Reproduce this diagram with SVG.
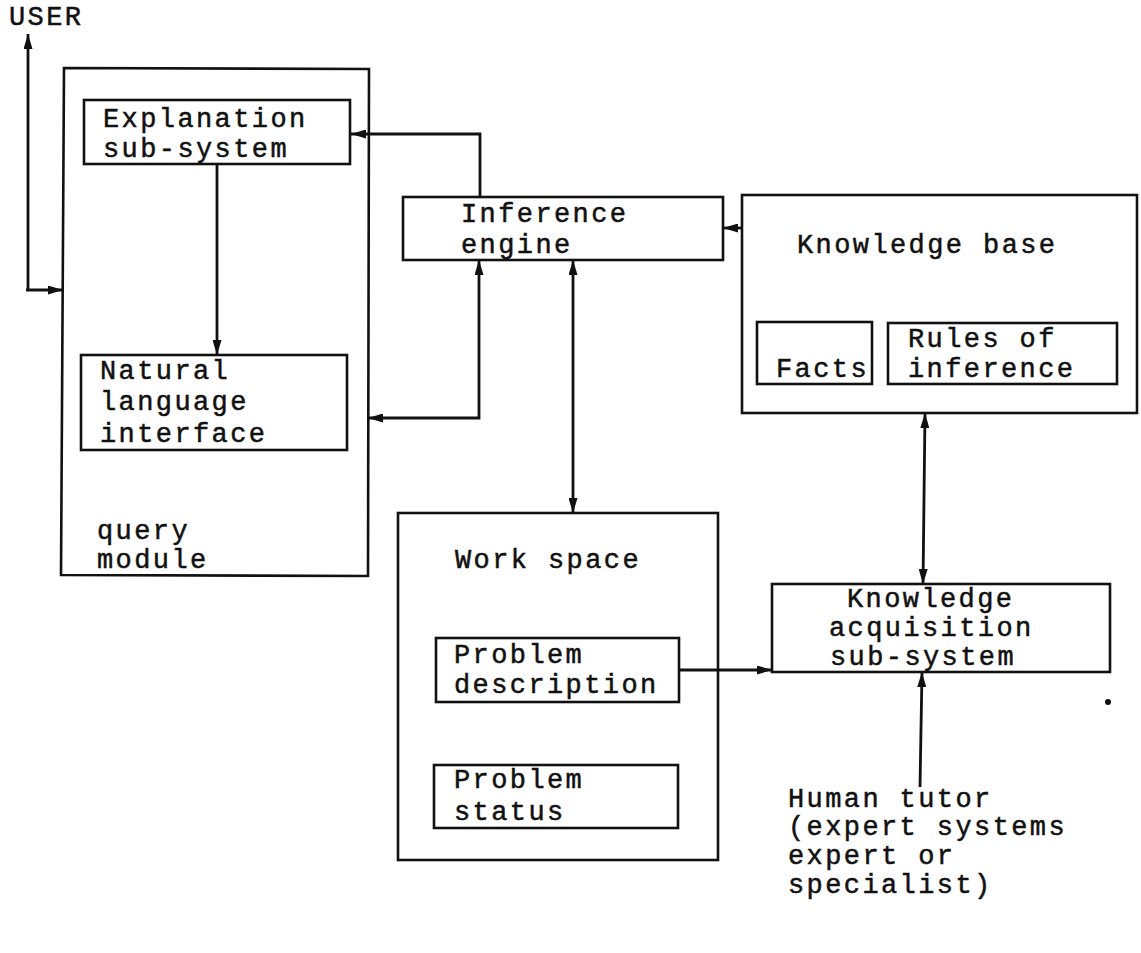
<svg xmlns="http://www.w3.org/2000/svg" width="1141" height="953" viewBox="0 0 1141 953">
  <style>
    .box { fill: none; stroke: #111; stroke-width: 2.6; }
    .wire { fill: none; stroke: #111; stroke-width: 2.8; }
    .lbl { font-family: "Liberation Mono", "DejaVu Sans Mono", monospace; font-size: 27px; letter-spacing: 2.4px; fill: #111; stroke: #111; stroke-width: 0.5; }
  </style>
  <defs>
    <marker id="arrow" viewBox="0 0 15 9" refX="15" refY="4.5" markerWidth="15" markerHeight="9" markerUnits="userSpaceOnUse" orient="auto-start-reverse">
      <path d="M0,0 L15,4.5 L0,9 z" fill="#111"/>
    </marker>
  </defs>
  <rect width="1141" height="953" fill="#fff"/>

  <text class="lbl" x="9" y="25">USER</text>

  <!-- query module and its sub-boxes -->
  <g id="query-module">
    <path class="box" d="M64,68 L369,69 L368,576 L61,575 Z"/>
    <text class="lbl" x="97" y="539">query</text>
    <text class="lbl" x="97" y="568">module</text>
  </g>
  <g id="explanation">
    <rect class="box" x="84" y="100" width="266" height="64"/>
    <text class="lbl" x="103" y="127">Explanation</text>
    <text class="lbl" x="103" y="157">sub-system</text>
  </g>
  <g id="natural-language">
    <rect class="box" x="81" y="355" width="266" height="95"/>
    <text class="lbl" x="100" y="379">Natural</text>
    <text class="lbl" x="100" y="410">language</text>
    <text class="lbl" x="100" y="442">interface</text>
  </g>

  <g id="inference-engine">
    <rect class="box" x="403" y="197" width="320" height="63"/>
    <text class="lbl" x="461" y="222">Inference</text>
    <text class="lbl" x="461" y="253">engine</text>
  </g>

  <g id="knowledge-base">
    <rect class="box" x="742" y="195" width="395" height="218"/>
    <text class="lbl" x="797" y="253">Knowledge base</text>
  </g>
  <g id="facts">
    <rect class="box" x="757" y="322" width="115" height="62"/>
    <text class="lbl" x="776" y="377">Facts</text>
  </g>
  <g id="rules">
    <rect class="box" x="888" y="323" width="229" height="61"/>
    <text class="lbl" x="908" y="347">Rules of</text>
    <text class="lbl" x="908" y="377">inference</text>
  </g>

  <g id="work-space">
    <rect class="box" x="398" y="513" width="320" height="347"/>
    <text class="lbl" x="455" y="568">Work space</text>
  </g>
  <g id="problem-description">
    <rect class="box" x="436" y="638" width="243" height="64"/>
    <text class="lbl" x="454" y="663">Problem</text>
    <text class="lbl" x="454" y="693">description</text>
  </g>
  <g id="problem-status">
    <rect class="box" x="434" y="765" width="244" height="63"/>
    <text class="lbl" x="454" y="788">Problem</text>
    <text class="lbl" x="454" y="820">status</text>
  </g>

  <g id="knowledge-acquisition">
    <rect class="box" x="772" y="584" width="338" height="88"/>
    <text class="lbl" x="847" y="607">Knowledge</text>
    <text class="lbl" x="829" y="636">acquisition</text>
    <text class="lbl" x="830" y="665">sub-system</text>
  </g>

  <g id="human-tutor">
    <text class="lbl" x="788" y="807">Human tutor</text>
    <text class="lbl" x="788" y="835">(expert systems</text>
    <text class="lbl" x="788" y="864">expert or</text>
    <text class="lbl" x="788" y="893">specialist)</text>
  </g>

  <circle cx="1108" cy="702" r="3" fill="#111"/>

  <g id="connectors">
    <!-- user link: up to USER, across into the query module -->
    <path class="wire" d="M28,290 L28,34" marker-end="url(#arrow)"/>
    <path class="wire" d="M26,290 L63,290" marker-end="url(#arrow)"/>
    <!-- explanation to natural language -->
    <path class="wire" d="M217,164 L217,355" marker-end="url(#arrow)"/>
    <!-- inference engine to explanation -->
    <path class="wire" d="M480,197 L480,134 L351,134" marker-end="url(#arrow)"/>
    <!-- natural language and inference engine -->
    <path class="wire" d="M368,418 L479,418 L479,260" marker-start="url(#arrow)" marker-end="url(#arrow)"/>
    <!-- knowledge base to inference engine -->
    <path class="wire" d="M742,228 L723,228" marker-end="url(#arrow)"/>
    <!-- inference engine and work space -->
    <path class="wire" d="M573,260 L573,513" marker-start="url(#arrow)" marker-end="url(#arrow)"/>
    <!-- knowledge base and knowledge acquisition -->
    <path class="wire" d="M925,413 L923,584" marker-start="url(#arrow)" marker-end="url(#arrow)"/>
    <!-- problem description to knowledge acquisition -->
    <path class="wire" d="M679,670 L772,670" marker-end="url(#arrow)"/>
    <!-- human tutor to knowledge acquisition -->
    <path class="wire" d="M920,787 L922,672" marker-end="url(#arrow)"/>
  </g>
</svg>
